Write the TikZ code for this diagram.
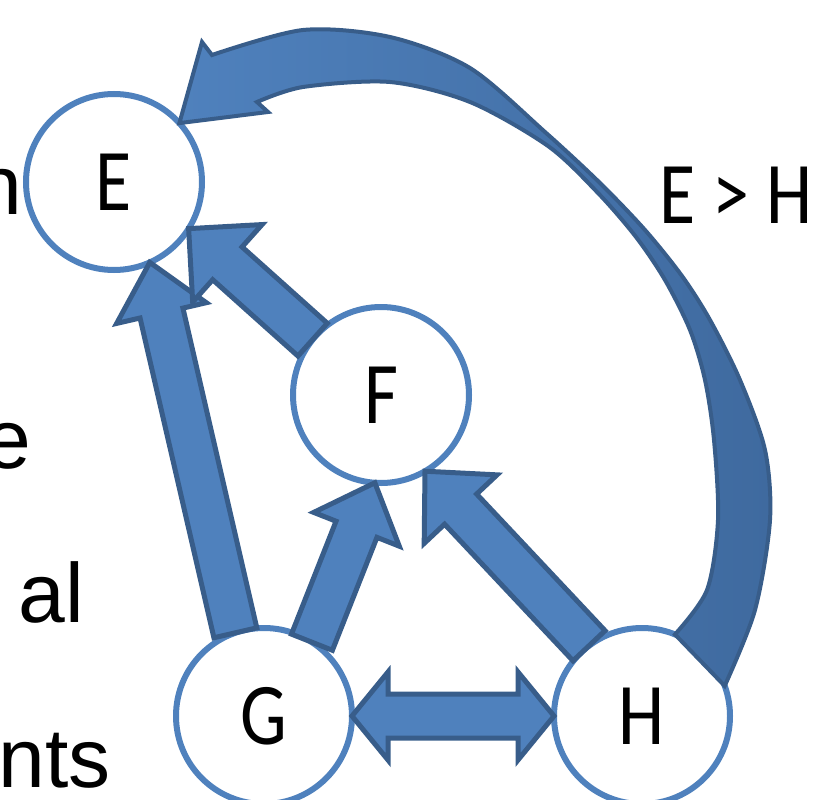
\documentclass[tikz,border=0pt]{standalone}
\usepackage{graphicx}
\usepackage{fontspec}
\setmainfont{Carlito}
\newfontfamily\slidefont{Liberation Sans}
\usetikzlibrary{calc}

\definecolor{nodeline}{HTML}{4F81BD}
\definecolor{arrowfill}{HTML}{4F81BD}
\definecolor{arrowline}{HTML}{385D8A}
\definecolor{arrowdark}{HTML}{3F6A9F}

% the slide letters are narrower than Carlito
\newcommand{\narrow}[1]{\scalebox{0.84}[1]{#1}}

% block arrow: tail, tip, shaft half width, head half width, head length
\newcommand{\blockarrow}[5]{%
  \coordinate (ba-base) at ($(#2)!#5!(#1)$);
  \draw[blockarrow] ($(#1)!#3!90:(ba-base)$) -- ($(ba-base)!#3!-90:(#1)$)
    -- ($(ba-base)!#4!-90:(#1)$) -- (#2) -- ($(ba-base)!#4!90:(#1)$)
    -- ($(ba-base)!#3!90:(#1)$) -- ($(#1)!#3!-90:(ba-base)$) -- cycle;
}
% same with a head at both ends
\newcommand{\twoblockarrow}[5]{%
  \coordinate (ba-one) at ($(#2)!#5!(#1)$);
  \coordinate (ba-two) at ($(#1)!#5!(#2)$);
  \draw[blockarrow] (#1) -- ($(ba-two)!#4!90:(#2)$) -- ($(ba-two)!#3!90:(#2)$)
    -- ($(ba-one)!#3!-90:(#1)$) -- ($(ba-one)!#4!-90:(#1)$) -- (#2)
    -- ($(ba-one)!#4!90:(#1)$) -- ($(ba-one)!#3!90:(#1)$)
    -- ($(ba-two)!#3!-90:(#2)$) -- ($(ba-two)!#4!-90:(#2)$) -- cycle;
}

\begin{document}
\begin{tikzpicture}[x=1pt, y=-1pt,
    vertex/.style={circle, draw=nodeline, line width=6pt, fill=white,
      minimum size=176pt, inner sep=0pt, outer sep=0pt,
      font=\fontsize{88}{96}\selectfont},
    blockarrow/.style={fill=arrowfill, draw=arrowline, line width=5pt},
    relation/.style={anchor=base, inner sep=0pt, font=\fontsize{88}{96}\selectfont},
    cut/.style={anchor=base east, inner sep=0pt,
      font=\slidefont\fontsize{84}{90}\selectfont}]
  \useasboundingbox (0,0) rectangle (827,800);

  % text running in from the left of the slide
  \node[cut] (cutn) at (22,214) {n};
  \node[cut] (cute) at (31,468) {e};
  \node[cut] (cutal) at (84,622) {al};
  \node[cut] (cutnts) at (111,787) {nts};

  \node[vertex] (E) at (114,182) {\narrow{E}};
  \node[vertex] (F) at (381,395) {\narrow{F}};
  \node[vertex] (G) at (264,716) {\narrow{G}};
  \node[vertex] (H) at (642,716) {\narrow{H}};

  \node[relation] (rel) at (736,223) {\narrow{E > H}};

  \blockarrow{G.109}{E.-66}{22pt}{46pt}{52pt}
  \blockarrow{F.141}{E.-32}{22pt}{52pt}{52pt}
  \blockarrow{G.57}{F.-94}{22pt}{46pt}{50pt}
  \blockarrow{H.127}{F.-60}{22pt}{50pt}{52pt}
  \twoblockarrow{G.0}{H.180}{22pt}{44pt}{36pt}

  % the long bent arrow from H over the top to E
  \draw[blockarrow, line width=4pt, left color=arrowfill, middle color=arrowfill,
      right color=arrowdark]
    plot[smooth] coordinates {(H.20) (755,610) (770,520) (765,450) (740,380)
      (710,320) (682,276) (645,230) (600,183) (545,132) (470,68) (390,37)
      (303,30) (212,55)}
    -- (202,42) -- (E.42) -- (268,112)
    -- plot[smooth] coordinates {(257,102) (303,87) (390,82) (470,102)
      (548,146) (598,193) (636,237) (665,280) (690,330) (705,380) (714,440)
      (718,520) (707,590) (H.68)}
    -- cycle;
\end{tikzpicture}
\end{document}
